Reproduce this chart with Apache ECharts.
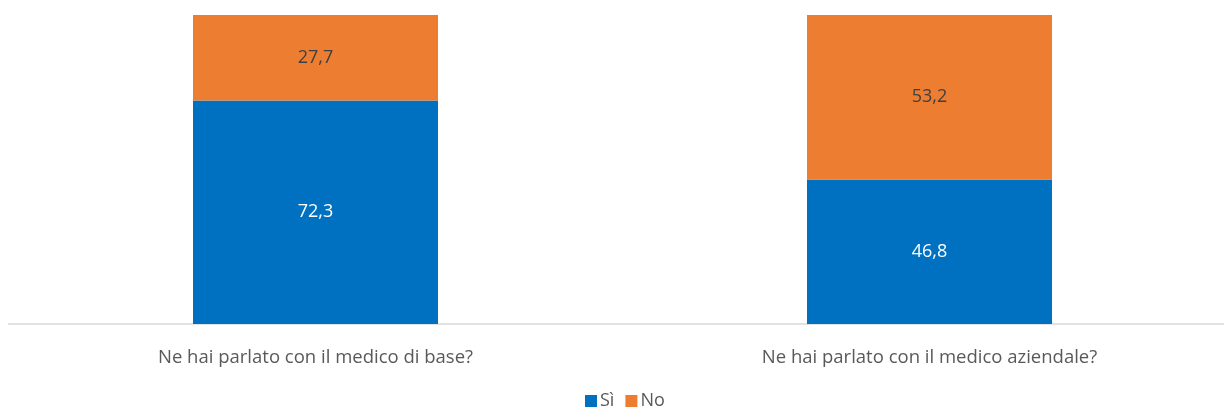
<!DOCTYPE html>
<html>
<head>
<meta charset="utf-8">
<script src="https://cdn.jsdelivr.net/npm/echarts@6/dist/echarts.min.js"></script>
<style>
  html, body { margin: 0; padding: 0; background: #fff; }
  #chart { width: 1224px; height: 410px; }
</style>
</head>
<body>
<div id="chart"></div>
<script>
const categories = ['Ne hai parlato con il medico di base?', 'Ne hai parlato con il medico aziendale?'];
const seriesNames = ['Sì', 'No'];
const valuesSi = [72.3, 46.8];
const valuesNo = [27.7, 53.2];

const fmt = p => String(p.value).replace('.', ',');
const FONT = '"Open Sans", "Liberation Sans", sans-serif';

const chart = echarts.init(document.getElementById('chart'));
chart.setOption({
  animation: false,
  textStyle: { fontFamily: FONT },
  grid: { left: 8.5, width: 1228, top: 15, height: 309, outerBoundsMode: 'none' },
  legend: {
    top: 392,
    left: 585,
    padding: 0,
    itemWidth: 12,
    itemHeight: 12,
    itemGap: 11,
    icon: 'rect',
    textStyle: { color: '#595959', fontSize: 18, lineHeight: 18, fontFamily: FONT, padding: [0, 0, 0, -2] },
    data: seriesNames
  },
  xAxis: {
    type: 'category',
    data: categories,
    axisLine: { lineStyle: { color: '#d9d9d9', width: 1.5 } },
    axisTick: { show: false },
    axisLabel: { color: '#595959', fontSize: 18.5, margin: 24, fontFamily: FONT }
  },
  yAxis: {
    type: 'value',
    min: 0,
    max: 100,
    show: false
  },
  series: [
    {
      name: seriesNames[0],
      type: 'bar',
      stack: 'tot',
      data: valuesSi,
      barWidth: 245,
      itemStyle: { color: '#0070C0' },
      label: { show: true, position: 'inside', color: '#ffffff', fontSize: 18, fontFamily: FONT, formatter: fmt }
    },
    {
      name: seriesNames[1],
      type: 'bar',
      stack: 'tot',
      data: valuesNo,
      barWidth: 245,
      itemStyle: { color: '#ED7D31' },
      label: { show: true, position: 'inside', color: '#404040', fontSize: 18, fontFamily: FONT, formatter: fmt }
    }
  ]
});
</script>
</body>
</html>
